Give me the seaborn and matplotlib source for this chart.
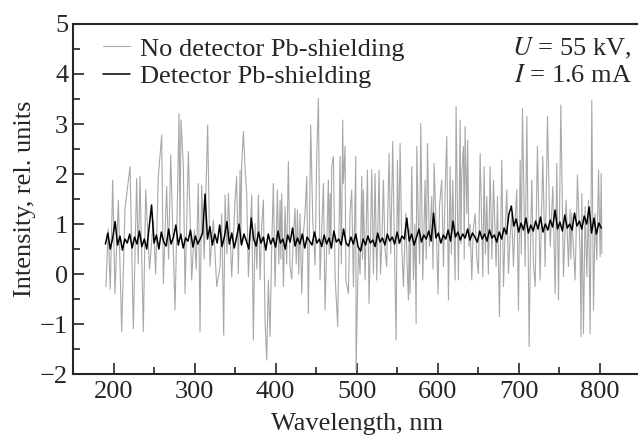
import numpy as np
import pandas as pd
import matplotlib
matplotlib.use("Agg")
import matplotlib.pyplot as plt
from matplotlib.ticker import MultipleLocator
import seaborn as sns

# grey trace: no detector Pb-shielding
wl_grey = [190.7, 193.5, 196.0, 199.0, 201.8, 206.0, 210.1, 214.2, 220.4, 224.5,
           228.6, 230.5, 232.7, 236.8, 239.7, 244.5, 249.2, 252.0, 255.3, 259.5,
           261.5, 265.6, 268.0, 270.6, 275.9, 278.5, 280.9, 282.0, 283.3, 286.2,
           288.3, 292.4, 296.5, 299.8, 302.0, 304.7, 306.8, 308.8, 312.0, 316.2,
           319.1, 323.2, 327.4, 331.5, 333.5, 336.0, 337.7, 340.0, 341.8, 345.9,
           350.0, 352.0, 354.1, 356.2, 357.2, 358.2, 360.3, 362.3, 364.4, 366.5,
           370.6, 372.6, 374.7, 377.0, 378.8, 380.9, 383.0, 385.0, 387.0, 389.1,
           391.1, 393.2, 395.3, 397.3, 399.4, 402.3, 404.0, 405.6, 406.6, 407.6,
           409.7, 411.7, 413.7, 415.8, 417.9, 420.0, 422.0, 424.1, 425.5, 427.0,
           428.6, 430.2, 432.3, 434.3, 436.4, 438.5, 440.5, 443.4, 445.9, 448.8,
           450.8, 452.9, 454.9, 457.0, 459.1, 461.1, 463.0, 465.2, 466.2, 467.3,
           468.3, 469.3, 471.4, 473.5, 476.7, 479.6, 481.2, 482.9, 483.7, 485.8,
           486.8, 489.9, 491.9, 494.0, 496.1, 499.0, 499.4, 502.3, 504.3, 506.4,
           507.4, 508.4, 510.5, 513.4, 515.4, 517.0, 518.7, 520.8, 522.8, 524.9,
           527.8, 529.5, 531.1, 533.1, 535.0, 537.2, 540.1, 542.2, 544.6, 546.7,
           548.8, 550.4, 552.0, 553.7, 555.8, 557.8, 560.7, 562.3, 564.0, 565.0,
           566.0, 568.1, 570.2, 572.0, 573.5, 574.3, 576.3, 577.8, 579.2, 581.7,
           584.6, 586.0, 587.5, 589.9, 592.8, 594.3, 595.7, 599.0, 600.5, 602.3,
           605.1, 607.2, 609.3, 611.3, 613.4, 615.4, 617.0, 618.7, 621.6, 622.8,
           625.7, 627.8, 628.8, 629.8, 631.9, 632.9, 633.9, 636.0, 637.1, 638.6,
           640.0, 642.2, 644.0, 646.3, 648.4, 650.4, 652.5, 655.8, 657.4, 659.0,
           660.7, 662.7, 664.8, 667.0, 669.0, 672.2, 673.9, 676.3, 679.2, 681.3,
           683.4, 685.4, 687.4, 689.5, 691.5, 693.6, 695.5, 697.7, 699.8, 701.9,
           703.3, 704.7, 708.0, 710.1, 713.0, 714.6, 716.2, 718.3, 720.4, 723.2,
           726.5, 729.8, 732.7, 735.6, 738.9, 742.2, 745.1, 747.1, 749.2, 752.1,
           755.3, 758.6, 761.5, 763.5, 764.5, 765.6, 767.7, 769.7, 772.6, 775.9,
           777.0, 778.0, 780.0, 782.1, 784.2, 786.2, 788.3, 790.3, 792.4, 794.4,
           796.5, 798.6, 800.6, 801.9, 802.7]
int_grey = [-0.25, 0.90, -0.30, 1.88, -0.39, 1.48, -1.15, 1.31, 2.15, -1.09,
            1.91, 0.20, 1.95, -1.15, 1.68, 0.10, 1.08, 0.00, 1.95, 2.78,
            -0.19, 1.75, 0.30, 2.38, -0.72, 1.20, 3.21, 0.80, 3.08, 2.15,
            -0.39, 2.45, -0.12, 0.88, 0.10, 1.81, -1.15, 1.78, 0.30, 2.98,
            0.15, 1.08, -0.25, 0.15, 1.20, -1.22, 1.58, 0.40, 1.61, -0.05,
            1.48, 1.95, 0.01, 2.08, 0.60, 2.18, 2.85, 2.15, 1.61, -0.05,
            1.58, -1.32, 1.01, 0.10, 1.58, -0.12, 1.00, 1.48, -0.92, -1.72,
            -0.12, -1.25, 0.60, 1.81, -0.25, 1.68, 0.20, 1.48, 0.30, 1.61,
            -0.25, 1.35, 0.20, 2.25, 0.15, -0.10, 0.75, 1.31, 0.20, 1.28,
            0.00, 1.21, -0.39, 0.80, 1.21, 1.95, -0.79, 2.98, 1.08, 0.18,
            2.35, 3.51, -0.12, 0.90, 1.81, -0.72, 0.50, 1.88, 0.40, 1.61,
            0.50, 2.15, 2.35, -0.05, -1.05, 2.35, 0.20, 3.08, 1.81, 2.55,
            -0.12, -0.39, 1.21, 1.68, -0.25, 2.35, -1.92, 0.55, 0.00, 1.95,
            0.30, 1.68, -0.12, 2.08, -0.59, 0.60, 2.08, 0.01, 2.01, -0.12,
            2.08, 0.00, 0.55, 1.88, 0.50, 0.15, 2.41, 0.41, 2.65, 0.55,
            -1.32, 2.28, 0.60, 2.61, 0.55, -0.25, 1.21, 0.20, -0.52, 0.90,
            -0.39, 2.15, -0.12, 1.00, -0.99, 2.55, 1.01, 0.20, 3.01, -0.12,
            1.88, 0.30, 2.61, 0.55, 1.55, 0.10, 2.21, 0.55, -0.40, 1.35,
            1.88, 0.15, 1.68, 2.75, -0.52, 2.15, 0.40, 1.88, -0.12, 3.35,
            -0.12, 3.08, 0.60, 2.01, 2.55, 0.30, 2.95, 1.21, 2.68, 0.55,
            1.00, -0.12, 0.90, 1.21, 0.30, 0.01, 2.41, -0.05, 2.15, 0.40,
            1.55, 0.00, 2.15, 0.30, 1.88, 0.15, 1.55, -0.85, 2.28, -0.25,
            0.90, 1.68, 0.01, 0.75, 1.20, 0.15, 1.00, 1.68, -0.72, 2.28,
            0.40, 3.31, 0.15, 3.15, -1.45, 0.50, 1.88, 0.20, -0.25, 2.55,
            -0.12, 2.35, 0.15, 3.15, 0.55, 1.75, -0.39, 2.21, -0.52, 3.38,
            -0.05, 1.48, 0.15, 1.30, 0.30, 1.21, 0.50, -0.12, 1.98, 0.41,
            -1.25, 1.61, -1.19, 1.35, -0.05, 1.48, -1.19, 3.48, -0.72, 1.21,
            0.28, 2.08, 0.35, 2.01, 0.41]

# black trace: detector Pb-shielding, read every 3 nm from 190 to 802
wl_black_start, wl_black_step = 190, 3
int_black = [0.60, 0.82, 0.50, 0.72, 1.05, 0.58, 0.76, 0.48, 0.70, 0.62,
             0.80, 0.52, 0.74, 0.60, 0.86, 0.55, 0.70, 0.50, 0.95, 1.38,
             0.62, 0.78, 0.50, 0.84, 0.64, 0.56, 0.90, 0.60, 0.74, 0.98,
             0.58, 0.80, 0.52, 0.72, 0.66, 0.88, 0.54, 0.76, 0.60, 0.70,
             0.82, 1.60, 0.70, 0.95, 0.58, 0.80, 0.62, 0.98, 0.55, 0.76,
             1.05, 0.60, 0.82, 0.52, 0.74, 1.00, 0.58, 0.80, 0.66, 0.50,
             1.12, 0.70, 0.56, 0.84, 0.62, 0.74, 0.48, 0.80, 0.60, 0.72,
             0.54, 0.86, 0.62, 0.70, 0.50, 0.78, 0.64, 0.92, 0.56, 0.72,
             0.60, 0.80, 0.52, 0.74, 0.66, 0.58, 0.84, 0.62, 0.70, 0.55,
             0.78, 0.60, 0.72, 0.52, 0.86, 0.64, 0.70, 0.58, 0.90, 0.62,
             0.56, 0.74, 0.60, 0.80, 0.54, 0.46, 0.70, 0.58, 0.76, 0.62,
             0.68, 0.55, 0.82, 0.64, 0.72, 0.58, 0.80, 0.66, 0.74, 0.60,
             0.84, 0.62, 0.76, 0.70, 1.12, 0.66, 0.80, 0.58, 0.74, 0.90,
             0.64, 0.78, 0.70, 0.86, 0.66, 1.22, 0.72, 0.82, 0.62, 0.78,
             0.70, 0.88, 0.66, 1.06, 0.74, 0.84, 0.68, 0.80, 0.72, 0.90,
             0.68, 0.82, 0.74, 0.64, 0.86, 0.70, 0.80, 0.66, 0.88, 0.72,
             0.78, 0.64, 0.84, 0.70, 0.92, 0.80, 1.20, 1.36, 0.96, 1.10,
             0.84, 1.02, 0.88, 1.12, 0.82, 0.98, 0.86, 1.06, 0.90, 1.14,
             0.84, 1.00, 0.88, 1.08, 0.94, 1.28, 0.90, 1.04, 0.86, 1.18,
             0.92, 1.00, 0.88, 1.22, 0.96, 1.06, 0.90, 1.16, 1.00, 1.34,
             0.82, 1.12, 0.80, 1.02, 0.92]
wl_black = wl_black_start + wl_black_step * np.arange(len(int_black))

sns.set_style("ticks")
plt.rcParams['font.family'] = 'serif'
plt.rcParams['font.serif'] = ['Liberation Serif', 'DejaVu Serif']
plt.rcParams['mathtext.fontset'] = 'stix'

fig = plt.figure(figsize=(6.38, 4.36), dpi=100)
ax = fig.add_axes([0.1144, 0.142, 0.889, 0.803])

sns.lineplot(x=wl_grey, y=int_grey, ax=ax, color='#a8a8a8', lw=0.8,
             label='No detector Pb-shielding')
sns.lineplot(x=wl_black, y=int_black, ax=ax, color='black', lw=1.1,
             label='Detector Pb-shielding')

fs = 19
ax.set_xlim(150, 850)
ax.set_ylim(-2, 5)
ax.xaxis.set_major_locator(MultipleLocator(100))
ax.xaxis.set_minor_locator(MultipleLocator(50))
ax.yaxis.set_minor_locator(MultipleLocator(0.5))
ax.tick_params(which='both', direction='in', top=False, right=False, labelsize=fs, width=1.2)
ax.tick_params(which='major', length=8)
ax.tick_params(which='minor', length=5)
ax.tick_params(axis='x', pad=5)
ax.set_yticks([-2, -1, 0, 1, 2, 3, 4, 5])
ax.set_yticklabels(['\u22122', '\u22121', '0', '1', '2', '3', '4', '5'])
for s in ax.spines.values():
    s.set_linewidth(1.5)
ax.spines['right'].set_visible(False)

ax.set_xlabel('Wavelength, nm', fontsize=fs, labelpad=7)
ax.set_ylabel('Intensity, rel. units', fontsize=fs, labelpad=3)

ax.legend(loc='upper left', frameon=False, fontsize=fs, handlelength=1.0,
          handletextpad=0.4, borderaxespad=0.1, labelspacing=0.15,
          bbox_to_anchor=(0.03, 1.0))

ax.text(0.985, 0.93, '$U$ = 55 kV,', transform=ax.transAxes, ha='right', va='center', fontsize=fs)
ax.text(0.985, 0.85, '$I$ = 1.6 mA', transform=ax.transAxes, ha='right', va='center', fontsize=fs)

fig.savefig('out.png', dpi=100)
